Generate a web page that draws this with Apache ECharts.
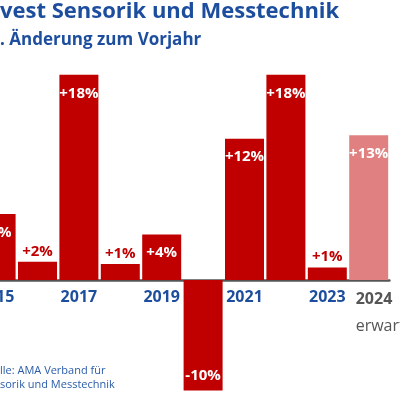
<!DOCTYPE html>
<html><head><meta charset="utf-8">
<script src="https://cdn.jsdelivr.net/npm/echarts@6/dist/echarts.min.js"></script>
<style>html,body{margin:0;padding:0;background:#fff}#c{width:400px;height:395px}</style>
</head><body><div id="c"></div>
<script>
var categories = ['2015','2016','2017','2018','2019','2020','2021','2022','2023','2024'];
var values = [5.8, 1.6, 18.0, 1.4, 4.0, -9.7, 12.4, 18.0, 1.1, 12.7];
var tickLabels = ['2015','','2017','','2019','','2021','','2023','2024'];
var forecastNote = 'erwartet';
var titleText = 'vest Sensorik und Messtechnik';
var subtitleText = '. Änderung zum Vorjahr';
var sourceText = 'lle: AMA Verband für\nsorik und Messtechnik';

var RED = '#c00000', LIGHT = '#e08080', BLUE = '#1d4e9e', GRAY = '#555555';
var outsideIdx = [1, 3, 8];

var data = values.map(function (v, i) {
  var last = i === values.length - 1;
  var item = { value: v, itemStyle: { color: last ? LIGHT : RED } };
  if (outsideIdx.indexOf(i) >= 0) {
    item.label = { position: 'top', distance: 3, color: RED };
  } else if (v < 0) {
    item.label = { position: 'insideBottom', distance: 7, color: '#fff' };
  } else {
    item.label = { position: 'insideTop', distance: 11, color: '#fff' };
  }
  return item;
});

var chart = echarts.init(document.getElementById('c'), null, { renderer: 'canvas' });
chart.setOption({
  animation: false,
  textStyle: { fontFamily: 'Open Sans' },
  title: [
    { text: titleText, left: 0, top: 1, padding: 0,
      textStyle: { fontFamily: 'Open Sans', fontWeight: 'bold', fontSize: 22, color: BLUE } },
    { text: subtitleText, left: 0, top: 32, padding: 0,
      textStyle: { fontFamily: 'Open Sans', fontWeight: 'bold', fontSize: 17, color: BLUE } },
    { text: sourceText, left: 0, top: 364, padding: 0,
      textStyle: { fontFamily: 'Open Sans', fontWeight: 'normal', fontSize: 11, lineHeight: 14, color: '#2a5ca8' } }
  ],
  grid: { left: -24.6, width: 414, top: 52, height: 228, containLabel: false, outerBoundsMode: 'none' },
  xAxis: {
    type: 'category',
    data: categories,
    axisLine: { show: true, onZero: true, lineStyle: { color: GRAY, width: 2.5 } },
    axisTick: { show: false },
    axisLabel: {
      interval: 0, margin: 9, hideOverlap: false,
      fontFamily: 'Open Sans', fontWeight: 'bold', fontSize: 16, color: BLUE,
      formatter: function (v, i) {
        var t = tickLabels[i];
        if (i === categories.length - 1) return '{y|' + t + '}\n{e|' + forecastNote + '}';
        return t;
      },
      rich: {
        y: { fontFamily: 'Open Sans', fontWeight: 'bold', fontSize: 16, color: GRAY, width: 26, align: 'left', lineHeight: 20 },
        e: { fontFamily: 'Open Sans', fontWeight: 'normal', fontSize: 16, color: GRAY, width: 26, align: 'left', lineHeight: 34 }
      }
    }
  },
  yAxis: { type: 'value', min: 0, max: 20, show: false, splitLine: { show: false } },
  series: [{
    type: 'bar',
    data: data,
    barWidth: 39,
    clip: false,
    label: {
      show: true, fontFamily: 'Open Sans', fontWeight: 'bold', fontSize: 15,
      formatter: function (p) { var r = Math.round(p.value); return (r > 0 ? '+' : '') + r + '%'; }
    }
  }]
});
</script></body></html>
